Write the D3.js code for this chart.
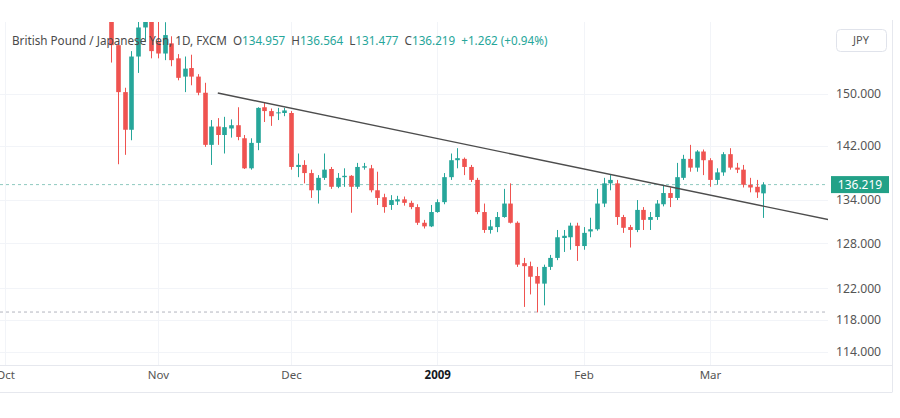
<!DOCTYPE html>
<html>
<head>
<meta charset="utf-8">
<script src="https://cdn.jsdelivr.net/npm/d3@7"></script>
<style>
  body { margin: 0; background: #fff; }
  svg { display: block; font-family: "Noto Sans", sans-serif; }
</style>
</head>
<body>
<div id="chart"></div>
<script>
// daily bars, index 0 = first bar of November 2008
const firstBar = -7;
const opens  = [163.5,158.0,150.3,144.4,156.1,161.0,163.0,158.5,156.6,158.3,155.8,152.8,154.2,152.8,150.2,142.1,144.9,143.6,144.6,145.1,
                143.1,138.6,142.4,147.9,147.3,147.0,147.0,147.0,138.8,139.1,137.9,135.4,137.2,138.5,135.9,137.3,137.5,135.9,138.7,138.6,
                135.4,134.4,133.3,133.8,134.1,133.6,133.0,130.8,130.3,132.3,133.7,137.3,139.8,140.0,138.8,136.9,132.3,129.8,130.2,131.6,
                133.5,130.8,125.3,124.9,123.6,122.6,124.8,126.0,128.7,128.8,130.4,127.6,129.6,129.9,133.5,136.4,136.4,131.6,130.2,129.8,
                132.6,131.2,131.6,133.4,135.0,134.3,137.2,140.0,138.7,141.1,139.8,136.9,138.0,140.7,138.7,138.4,136.2,135.9,134.957];
const highs  = [165.0,158.5,151.0,157.0,163.0,165.0,164.5,162.0,161.9,159.5,156.5,156.1,156.4,153.2,151.8,145.9,146.2,146.4,146.0,147.9,
                143.6,143.1,147.9,148.7,147.7,147.8,147.8,147.3,140.8,139.8,138.4,137.6,140.8,138.8,137.9,138.6,137.6,139.4,139.4,139.1,
                138.1,134.9,134.7,134.6,134.5,133.9,133.4,131.2,133.3,134.1,137.9,140.8,141.6,140.2,139.1,137.2,133.5,131.2,132.3,135.6,
                136.4,131.0,126.0,125.5,124.8,125.1,126.4,129.8,129.8,130.8,130.8,130.2,131.5,135.6,137.2,137.6,136.9,131.9,130.5,134.0,
                133.0,132.3,134.0,136.2,135.8,139.4,140.6,142.1,141.3,141.4,140.1,138.6,141.0,141.6,139.4,139.1,137.2,136.9,136.564];
const lows   = [155.1,139.2,140.6,142.8,153.4,158.5,155.8,155.8,155.5,154.5,152.2,150.3,151.4,149.8,141.8,139.1,142.1,140.8,143.2,142.8,
                138.5,138.4,141.3,145.6,145.0,145.9,146.5,138.4,137.3,136.4,134.3,133.5,136.9,135.6,135.7,135.9,132.2,135.6,138.4,135.1,
                133.3,132.2,132.6,133.3,133.2,132.7,130.5,130.0,130.2,132.2,133.4,136.9,138.6,137.6,136.6,132.0,129.4,129.3,129.5,131.5,
                130.7,124.8,119.6,121.2,118.9,119.8,124.4,125.7,126.8,127.1,125.6,127.1,128.8,129.7,133.0,135.4,130.5,129.4,127.4,129.5,
                129.8,129.8,131.2,133.1,133.0,134.0,136.9,138.1,138.1,137.6,135.9,136.2,137.5,138.4,137.9,135.8,135.1,134.3,131.477];
const closes = [158.0,150.3,144.4,156.1,161.0,163.5,157.0,156.6,159.7,155.5,152.6,154.1,152.8,150.2,142.1,144.9,143.6,144.8,145.1,143.3,
                138.6,142.4,147.8,147.3,146.5,147.1,147.4,138.8,139.1,137.9,135.4,137.2,138.4,135.9,137.2,137.5,135.9,138.8,138.9,135.4,
                134.3,133.0,134.0,134.1,133.6,133.0,130.8,130.3,132.3,133.7,137.3,139.8,140.1,138.8,136.9,132.3,129.8,130.3,131.6,133.5,
                130.8,125.1,124.9,123.5,122.6,124.8,126.0,128.8,129.0,130.4,127.6,129.4,129.9,133.5,136.4,136.9,131.6,130.1,129.8,132.6,
                131.2,131.6,133.5,135.0,134.3,137.3,140.0,138.7,141.1,139.8,136.9,138.0,140.7,138.7,138.4,136.2,135.8,135.1,136.219];

const monthLabels = ["Oct", "Nov", "Dec", "2009", "Feb", "Mar"];
const monthBars   = [-23, 0, 20, 42, 64, 83];
const priceTicks  = [150, 142, 134, 128, 122, 118, 114];

const trendBars   = [9, 101];
const trendPrices = [150.16, 131.2];
const supportPrice = 118.95;
const lastPrice = 136.219;

const title = "British Pound / Japanese Yen, 1D, FXCM";
const ohlcKeys = ["O", "H", "L", "C"];
const change = "+1.262 (+0.94%)";

const W = 900, H = 418;
const plot = { left: 0, right: 828, top: 22, bottom: 365 };
const up = "#26a69a", down = "#ef5350";

const bars = opens.map((o, k) => ({ i: firstBar + k, o: o, h: highs[k], l: lows[k], c: closes[k] }));

const svg = d3.select("#chart").append("svg")
  .attr("width", W).attr("height", H);

const x = d3.scaleLinear().domain([-23.75, 100.75]).range([plot.left, plot.right]);
const y = d3.scaleLog().domain([150, 114]).range([94, 352]);

svg.append("defs").append("clipPath").attr("id", "plotclip")
  .append("rect")
  .attr("x", plot.left).attr("y", plot.top)
  .attr("width", plot.right - plot.left).attr("height", plot.bottom - plot.top);

// grid
const grid = svg.append("g").attr("stroke", "#f2f4f8").attr("stroke-width", 1);
grid.selectAll(".hg").data(priceTicks).enter().append("line")
  .attr("x1", plot.left).attr("x2", plot.right)
  .attr("y1", d => Math.round(y(d)) + 0.5).attr("y2", d => Math.round(y(d)) + 0.5);
grid.selectAll(".vg").data(monthBars).enter().append("line")
  .attr("x1", d => Math.round(x(d)) + 0.5).attr("x2", d => Math.round(x(d)) + 0.5)
  .attr("y1", plot.top).attr("y2", plot.bottom);

// frame
const frame = svg.append("g").attr("stroke", "#e6e8ee").attr("stroke-width", 1).attr("fill", "none");
frame.append("line").attr("x1", 0).attr("x2", 892).attr("y1", plot.bottom + 0.5).attr("y2", plot.bottom + 0.5);
frame.append("line").attr("x1", 0).attr("x2", 892).attr("y1", 392.5).attr("y2", 392.5);
frame.append("line").attr("x1", 892.5).attr("x2", 892.5).attr("y1", 20).attr("y2", 392.5);

const main = svg.append("g").attr("clip-path", "url(#plotclip)");

// horizontal dashed lines
main.append("line")
  .attr("x1", plot.left).attr("x2", plot.right)
  .attr("y1", y(supportPrice)).attr("y2", y(supportPrice))
  .attr("stroke", "#b2b5be").attr("stroke-dasharray", "3,3");
main.append("line")
  .attr("x1", plot.left).attr("x2", plot.right)
  .attr("y1", y(lastPrice)).attr("y2", y(lastPrice))
  .attr("stroke", "#8fc9bf").attr("stroke-dasharray", "3,3");

// candles
const candle = main.selectAll(".bar").data(bars).enter().append("g").attr("class", "bar");
candle.append("line")
  .attr("x1", d => Math.round(x(d.i)) + 0.5).attr("x2", d => Math.round(x(d.i)) + 0.5)
  .attr("y1", d => y(d.h)).attr("y2", d => y(d.l))
  .attr("stroke", d => d.c >= d.o ? up : down).attr("stroke-width", 1);
candle.append("rect")
  .attr("x", d => Math.round(x(d.i)) - 1.8)
  .attr("width", 4.6)
  .attr("y", d => y(Math.max(d.o, d.c)))
  .attr("height", d => Math.max(1, y(Math.min(d.o, d.c)) - y(Math.max(d.o, d.c))))
  .attr("fill", d => d.c >= d.o ? up : down);

// trend line
main.append("line")
  .attr("x1", x(trendBars[0])).attr("x2", x(trendBars[1]))
  .attr("y1", y(trendPrices[0])).attr("y2", y(trendPrices[1]))
  .attr("stroke", "#4d4d4d").attr("stroke-width", 1.4);

// price axis
const yAxis = svg.append("g")
  .attr("transform", "translate(836,0)")
  .call(d3.axisRight(y).tickValues(priceTicks).tickFormat(d3.format(".3f")).tickSize(0).tickPadding(0));
yAxis.select(".domain").remove();
yAxis.selectAll("text").attr("fill", "#555").attr("font-size", 12.2).attr("font-family", "Noto Sans");

// last price badge
const badge = svg.append("g").attr("transform", "translate(0," + y(lastPrice) + ")");
badge.append("rect").attr("x", 831).attr("y", -8.5).attr("width", 58).attr("height", 17).attr("fill", "#22a187");
badge.append("text").attr("x", 860).attr("y", 4.5).attr("text-anchor", "middle")
  .attr("fill", "#fff").attr("font-size", 12).text(d3.format(".3f")(lastPrice));

// time axis
const xAxis = svg.append("g")
  .attr("transform", "translate(0,371)")
  .call(d3.axisBottom(x).tickValues(monthBars).tickFormat((d, k) => monthLabels[k]).tickSize(0).tickPadding(0));
xAxis.select(".domain").remove();
xAxis.selectAll("text")
  .attr("fill", d => d === 42 ? "#131722" : "#555")
  .attr("font-weight", d => d === 42 ? "bold" : "normal")
  .attr("font-size", 11.5).attr("font-family", "Noto Sans");

// currency button
svg.append("rect").attr("x", 836.5).attr("y", 29.5).attr("width", 50).attr("height", 22).attr("rx", 4)
  .attr("fill", "#fff").attr("stroke", "#e0e3eb");
svg.append("text").attr("x", 861).attr("y", 44).attr("text-anchor", "middle")
  .attr("fill", "#555").attr("font-size", 11).text("JPY");

// legend
const last = bars[bars.length - 1];
const ohlcVals = [last.o, last.h, last.l, last.c];
const legendText = svg.append("text").attr("x", 12).attr("y", 45).attr("font-size", 11.7);
legendText.append("tspan").attr("fill", "#4a4a4a").text(title);
ohlcKeys.forEach((k, n) => {
  legendText.append("tspan").attr("fill", "#4a4a4a").attr("dx", 6).text(k);
  legendText.append("tspan").attr("fill", up).text(d3.format(".3f")(ohlcVals[n]));
});
legendText.append("tspan").attr("fill", up).attr("dx", 6).text(change);
</script>
</body>
</html>
